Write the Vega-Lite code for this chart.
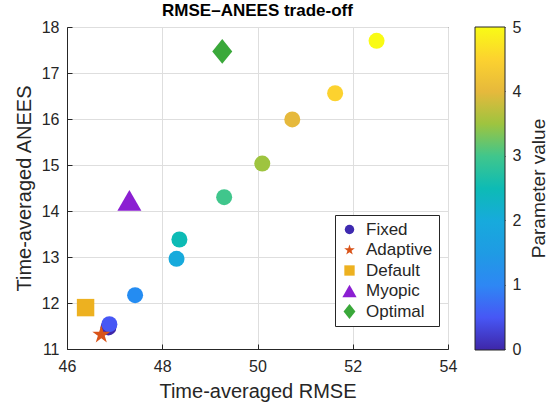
{
  "$schema": "https://vega.github.io/schema/vega-lite/v6.json",
  "width": 381,
  "height": 322,
  "autosize": {"type": "none"},
  "padding": {"left": 67, "top": 27, "right": 102, "bottom": 57},
  "background": "white",
  "title": {"text": "RMSE–ANEES trade-off", "fontSize": 17, "fontWeight": "bold", "font": "Liberation Sans", "color": "#000000", "offset": 1, "dy": 2},
  "config": {
    "font": "Liberation Sans",
    "view": {"stroke": "#262626", "strokeWidth": 1},
    "axis": {
      "domainColor": "#262626",
      "tickColor": "#262626",
      "labelColor": "#262626",
      "titleColor": "#262626",
      "gridColor": "#dedede",
      "gridWidth": 1,
      "labelFontSize": 16,
      "titleFontSize": 20,
      "titleFontWeight": "normal",
      "labelFont": "Liberation Sans",
      "titleFont": "Liberation Sans"
    }
  },
  "data": {
    "values": [
      {"method": "Fixed", "param": 0, "rmse": 46.87, "anees": 11.47},
      {"method": "Fixed", "param": 0.5, "rmse": 46.89, "anees": 11.54},
      {"method": "Fixed", "param": 1.1, "rmse": 47.43, "anees": 12.17},
      {"method": "Fixed", "param": 2, "rmse": 48.30, "anees": 12.96},
      {"method": "Fixed", "param": 2.5, "rmse": 48.36, "anees": 13.38},
      {"method": "Fixed", "param": 3, "rmse": 49.30, "anees": 14.30},
      {"method": "Fixed", "param": 3.5, "rmse": 50.10, "anees": 15.03},
      {"method": "Fixed", "param": 4, "rmse": 50.73, "anees": 15.99},
      {"method": "Fixed", "param": 4.5, "rmse": 51.63, "anees": 16.56},
      {"method": "Fixed", "param": 5, "rmse": 52.50, "anees": 17.70},
      {"method": "Adaptive", "param": null, "rmse": 46.72, "anees": 11.31},
      {"method": "Default", "param": null, "rmse": 46.39, "anees": 11.90},
      {"method": "Myopic", "param": null, "rmse": 47.31, "anees": 14.23},
      {"method": "Optimal", "param": null, "rmse": 49.26, "anees": 17.47}
    ]
  },
  "layer": [
    {
      "layer": [
        {
          "transform": [{"filter": "datum.method === 'Fixed'"}],
          "mark": {"type": "point", "filled": true, "shape": "circle", "size": 256, "opacity": 1, "strokeWidth": 0},
          "encoding": {
            "x": {"field": "rmse", "type": "quantitative", "scale": {"domain": [46, 54], "nice": false, "zero": false},
              "axis": {"title": "Time-averaged RMSE", "values": [46, 48, 50, 52, 54], "tickSize": -5, "labelPadding": 14, "titlePadding": 7, "labelFlush": false}},
            "y": {"field": "anees", "type": "quantitative", "scale": {"domain": [11, 18], "nice": false, "zero": false},
              "axis": {"title": "Time-averaged ANEES", "values": [11, 12, 13, 14, 15, 16, 17, 18], "tickSize": -5, "labelPadding": 13, "titlePadding": 7, "labelFlush": false}},
            "fill": {
              "field": "param", "type": "quantitative",
              "scale": {
                "domain": [0, 0.5, 1, 1.5, 2, 2.5, 3, 3.5, 4, 4.5, 5],
                "range": ["#3e26a8", "#4757f5", "#2e87f4", "#1f9be4", "#17aadc", "#0dbbb5", "#40c68c", "#9ec43f", "#e6b93c", "#fcd22f", "#f9fb15"]
              },
              "legend": {
                "orient": "none", "legendX": 408, "legendY": 0, "direction": "vertical",
                "gradientLength": 323, "gradientThickness": 30,
                "gradientStrokeColor": "#262626", "gradientStrokeWidth": 1,
                "values": [0, 5],
                "title": null,
                "labelExpr": "''",
                "padding": 0
              }
            }
          }
        },
        {
          "transform": [{"filter": "datum.method !== 'Fixed'"}],
          "mark": {"type": "point", "filled": true, "size": 256, "opacity": 1, "strokeWidth": 0},
          "encoding": {
            "x": {"field": "rmse", "type": "quantitative"},
            "y": {"field": "anees", "type": "quantitative"},
            "shape": {
              "field": "method", "type": "nominal",
              "scale": {
                "domain": ["Fixed", "Adaptive", "Default", "Myopic", "Optimal"],
                "range": [
                  "circle",
                  "M0,-1.18L0.265,-0.365L1.122,-0.365L0.429,0.139L0.694,0.955L0,0.451L-0.694,0.955L-0.429,0.139L-1.122,-0.365L-0.265,-0.365Z",
                  "M-1.09,-1.09L1.09,-1.09L1.09,1.09L-1.09,1.09Z",
                  "M0,-1.3L1.5,1.3L-1.5,1.3Z",
                  "M0,-1.56L1.25,0L0,1.56L-1.25,0Z"
                ]
              },
              "legend": {
                "orient": "none", "legendX": 268, "legendY": 188, "title": null,
                "fillColor": "white", "strokeColor": "#262626", "padding": 6,
                "labelFontSize": 17, "labelColor": "#262626", "symbolSize": 90,
                "rowPadding": 2.5, "labelOffset": 8, "symbolStrokeWidth": 0
              }
            },
            "color": {
              "field": "method", "type": "nominal",
              "scale": {
                "domain": ["Fixed", "Adaptive", "Default", "Myopic", "Optimal"],
                "range": ["#3e2ab0", "#d95319", "#edb120", "#8b1fd2", "#3aa83a"]
              },
              "legend": {
                "orient": "none", "legendX": 268, "legendY": 188, "title": null,
                "fillColor": "white", "strokeColor": "#262626", "padding": 6,
                "labelFontSize": 17, "labelColor": "#262626", "symbolSize": 90,
                "rowPadding": 2.5, "labelOffset": 8, "symbolStrokeWidth": 0
              }
            }
          }
        }
      ]
    },
    {
      "transform": [{"filter": "datum.method === 'Fixed'"}],
      "mark": {"type": "point", "opacity": 0},
      "encoding": {
        "x": {"field": "rmse", "type": "quantitative"},
        "y": {
          "field": "param", "type": "quantitative",
          "scale": {"domain": [0, 5], "nice": false, "zero": false},
          "axis": {
            "orient": "right", "offset": 57, "title": "Parameter value",
            "values": [0, 1, 2, 3, 4, 5], "grid": false, "domain": false,
            "tickSize": -4, "tickColor": "#262626", "labelPadding": 11, "labelFontSize": 16,
            "labelFlush": false,
            "titleAngle": 270, "titleBaseline": "top", "titleAlign": "center",
            "titleX": 24, "titleY": 161, "titleFontSize": 19
          }
        }
      }
    }
  ],
  "resolve": {"scale": {"y": "independent"}}
}
